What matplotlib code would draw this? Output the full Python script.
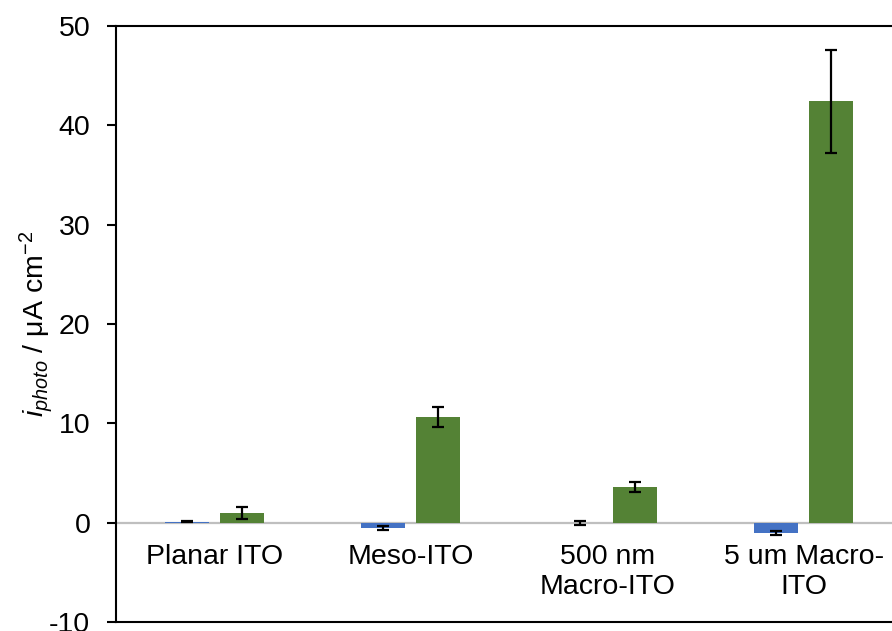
import matplotlib
matplotlib.use("Agg")
import matplotlib.pyplot as plt
import numpy as np

categories = ["Planar ITO", "Meso-ITO", "500 nm\nMacro-ITO", "5 um Macro-\nITO"]
blue_vals = [0.1, -0.55, -0.05, -1.04]
blue_err = [0.05, 0.2, 0.2, 0.22]
green_vals = [1.0, 10.6, 3.6, 42.4]
green_err = [0.6, 1.0, 0.5, 5.2]
yticks = [-10, 0, 10, 20, 30, 40, 50]

plt.rcParams['font.family'] = ['Liberation Sans', 'DejaVu Sans']
plt.rcParams['mathtext.fontset'] = 'custom'
plt.rcParams['mathtext.rm'] = 'Liberation Sans'
plt.rcParams['mathtext.it'] = 'Liberation Sans:italic'
plt.rcParams['axes.unicode_minus'] = False

FS = 20.5

fig = plt.figure(figsize=(8.92, 6.31), dpi=100)
ax = fig.add_axes([116/892, 9/631, 1 - 116/892, (622-26)/631])

x = np.arange(len(categories))
w = 0.224
off = 0.14
ekw = dict(ecolor='black', elinewidth=1.6, capsize=4.3, capthick=1.6)
ax.bar(x - off, blue_vals, w, color='#4472C4', yerr=blue_err, error_kw=ekw, zorder=2)
ax.bar(x + off, green_vals, w, color='#548235', yerr=green_err, error_kw=ekw, zorder=2)

ax.axhline(0, color='#BFBFBF', lw=1.6, zorder=1)

ax.set_xlim(-0.5, 3.5 - 10/196)
ax.set_ylim(-10, 50)
ax.set_yticks(yticks)
ax.set_xticks([])
ax.tick_params(axis='y', direction='out', length=6.5, width=1.5, labelsize=FS, pad=12, colors='black')
ax.spines['right'].set_visible(False)
for s in ['left', 'bottom', 'top']:
    ax.spines[s].set_linewidth(1.5)

for xi, lab in zip(x, categories):
    ax.text(xi, -2.15, lab, ha='center', va='top', fontsize=FS, linespacing=1.2, color='black')

ax.set_ylabel(r"$\mathit{i}_{\mathit{photo}}$ / μA cm$^{-2}$", fontsize=FS)
ax.yaxis.set_label_coords(-0.079, 0.5)

fig.savefig("out.png", dpi=100)
